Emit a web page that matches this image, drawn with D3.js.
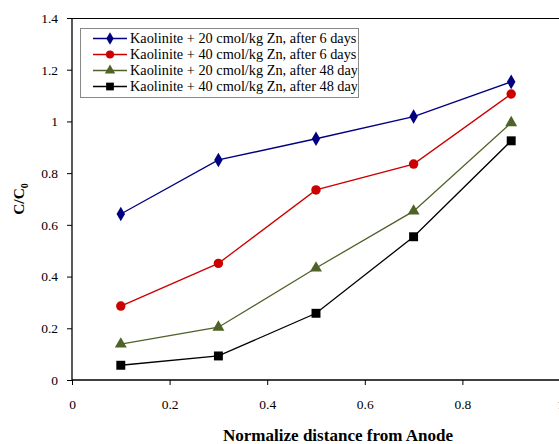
<!DOCTYPE html>
<html><head><meta charset="utf-8">
<script src="https://cdn.jsdelivr.net/npm/d3@7"></script>
<style>body{margin:0;background:#fff}svg{display:block}
svg text{font-family:"Liberation Serif","Tinos","Times New Roman",Times,"DejaVu Serif","Noto Serif",serif !important}</style>
</head><body>
<svg id="c" width="559" height="444"></svg>
<script>
const xValues = [0.1, 0.3, 0.5, 0.7, 0.9];
const seriesNames = [
  "Kaolinite + 20 cmol/kg Zn, after 6 days",
  "Kaolinite + 40 cmol/kg Zn, after 6 days",
  "Kaolinite + 20 cmol/kg Zn, after 48 days",
  "Kaolinite + 40 cmol/kg Zn, after 48 days"
];
const s20d6 = [0.642, 0.851, 0.933, 1.019, 1.153];
const s40d6 = [0.286, 0.451, 0.735, 0.835, 1.106];
const s20d48 = [0.139, 0.204, 0.433, 0.653, 0.995];
const s40d48 = [0.057, 0.093, 0.258, 0.554, 0.925];
const xTicks = [0, 0.2, 0.4, 0.6, 0.8, 1];
const yTicks = [0, 0.2, 0.4, 0.6, 0.8, 1, 1.2, 1.4];

const seriesValues = [s20d6, s40d6, s20d48, s40d48];
const colors = ["#000080", "#cc0000", "#4f6228", "#000000"];
const symbols = [d3.symbolDiamond, d3.symbolCircle, d3.symbolTriangle, d3.symbolSquare];
const symSizes = [62, 70, 62, 80];

const svg = d3.select("#c");
const L = 72, T = 18, R = 560, B = 380;
const x = d3.scaleLinear().domain([0, 1]).range([L, R]);
const y = d3.scaleLinear().domain([0, 1.4]).range([B, T]);

svg.append("line").attr("x1", L).attr("x2", R).attr("y1", T + 0.5).attr("y2", T + 0.5)
  .attr("stroke", "#000").attr("stroke-width", 1.2);

const fmt = d => d3.format("")(+d.toFixed(1));
const xa = svg.append("g").attr("transform", `translate(0,${B})`)
  .call(d3.axisBottom(x).tickValues(xTicks).tickSize(5).tickPadding(14).tickFormat(fmt));
const ya = svg.append("g").attr("transform", `translate(${L},0)`)
  .call(d3.axisLeft(y).tickValues(yTicks).tickSize(5).tickPadding(9).tickFormat(fmt));
[xa, ya].forEach(a => {
  a.attr("font-family", null);
  a.select(".domain").attr("stroke", "#000").attr("stroke-width", 1.3);
  a.selectAll(".tick line").attr("stroke", "#000").attr("stroke-width", 1);
  a.selectAll("text").attr("font-size", 13.5).attr("fill", "#000");
});
xa.select(".domain").attr("d", `M${L},0H${R}`);
ya.select(".domain").attr("d", `M0,${B}V${T}`);

const line = d3.line().x((d, i) => x(xValues[i])).y(d => y(d));
seriesValues.forEach((vals, k) => {
  svg.append("path").datum(vals).attr("d", line).attr("fill", "none")
    .attr("stroke", colors[k]).attr("stroke-width", 1.3);
  svg.selectAll(null).data(vals).enter().append("path")
    .attr("transform", (d, i) => `translate(${x(xValues[i])},${y(d)})`)
    .attr("d", d3.symbol().type(symbols[k]).size(symSizes[k]))
    .attr("fill", colors[k]);
});

const lg = svg.append("g");
const lx = 80.5, ly = 28.5, lw = 278, lh = 69;
svg.append("clipPath").attr("id", "lc").append("rect").attr("x", lx).attr("y", ly).attr("width", lw - 1).attr("height", lh);
lg.append("rect").attr("x", lx).attr("y", ly).attr("width", lw).attr("height", lh)
  .attr("fill", "#fff").attr("stroke", "#888").attr("stroke-width", 1);
seriesNames.forEach((name, k) => {
  const yy = 38.5 + k * 16;
  lg.append("line").attr("x1", 93).attr("x2", 127).attr("y1", yy).attr("y2", yy)
    .attr("stroke", colors[k]).attr("stroke-width", 1.3);
  lg.append("path").attr("transform", `translate(110,${yy})`)
    .attr("d", d3.symbol().type(symbols[k]).size(symSizes[k] * 0.75)).attr("fill", colors[k]);
  lg.append("text").attr("x", 130).attr("y", yy + 4.5).attr("font-size", 14.3)
    .attr("clip-path", "url(#lc)").attr("fill", "#000").text(name);
});

svg.append("text").attr("x", 338).attr("y", 441).attr("text-anchor", "middle")
  .attr("font-size", 16).attr("font-weight", "bold")
  .attr("textLength", 230).attr("lengthAdjust", "spacingAndGlyphs")
  .text("Normalize distance from Anode");
const yt = svg.append("text").attr("transform", "translate(24,199) rotate(-90)")
  .attr("text-anchor", "middle").attr("font-size", 15.5).attr("font-weight", "bold");
yt.append("tspan").text("C/C");
yt.append("tspan").attr("font-size", 10).attr("dy", 4).text("0");
</script>
</body></html>
